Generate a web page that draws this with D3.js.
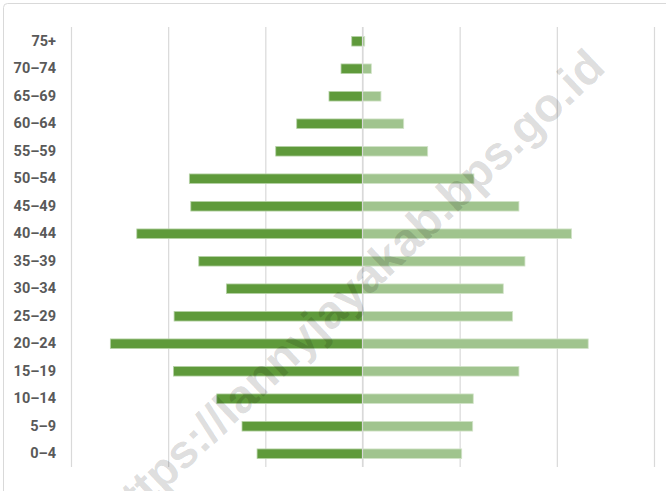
<!DOCTYPE html>
<html>
<head>
<meta charset="utf-8">
<script src="https://cdn.jsdelivr.net/npm/d3@7"></script>
<style>
  html, body { margin: 0; padding: 0; background: #fff; }
  svg { display: block; }
</style>
</head>
<body>
<svg id="chart" width="666" height="491"></svg>
<script>
// Age groups, top to bottom
const ageGroups = ["75+", "70–74", "65–69", "60–64", "55–59", "50–54", "45–49", "40–44",
                   "35–39", "30–34", "25–29", "20–24", "15–19", "10–14", "5–9", "0–4"];
// Left side (dark green)
const leftValues = [111, 221, 345, 677, 893, 1782, 1767, 2323,
                    1685, 1401, 1939, 2595, 1946, 1500, 1240, 1085];
// Right side (light green)
const rightValues = [23, 91, 190, 424, 671, 1147, 1610, 2152,
                     1672, 1449, 1545, 2323, 1610, 1140, 1134, 1021];
// Gridline positions (no labels shown)
const gridTicks = [-3000, -2000, -1000, 0, 1000, 2000, 3000];
const watermarkText = "https://lannyjayakab.bps.go.id";

const svg = d3.select("#chart");

// outer chart border
svg.append("rect")
  .attr("x", 3.5).attr("y", 3.5)
  .attr("width", 720).attr("height", 600)
  .attr("rx", 4)
  .attr("fill", "#fff")
  .attr("stroke", "#d9d9d9").attr("stroke-width", 1);

const x = d3.scaleLinear().domain([-3000, 3000]).range([71, 654]);
const y = d3.scaleBand().domain(ageGroups).range([27.5, 467.5])
  .paddingInner(0.65).paddingOuter(0.325);

// gridlines
const grid = svg.append("g")
  .attr("transform", "translate(0,467)")
  .call(d3.axisBottom(x).tickValues(gridTicks).tickSize(-440).tickFormat(""));
grid.select(".domain").remove();
grid.selectAll(".tick line").attr("stroke", "#d9d9d9").attr("stroke-width", 1.2);

// bars
const rows = ageGroups.map((g, i) => ({ g, l: leftValues[i], r: rightValues[i] }));

svg.append("g").selectAll("rect")
  .data(rows).join("rect")
  .attr("x", d => x(-d.l))
  .attr("y", d => y(d.g))
  .attr("width", d => x(0) - x(-d.l))
  .attr("height", y.bandwidth())
  .attr("fill", "#5f9a3b")
  .attr("stroke", "#b7d3a8").attr("stroke-width", 0.8);

svg.append("g").selectAll("rect")
  .data(rows).join("rect")
  .attr("x", x(0))
  .attr("y", d => y(d.g))
  .attr("width", d => x(d.r) - x(0))
  .attr("height", y.bandwidth())
  .attr("fill", "#a0c48e")
  .attr("stroke", "#d3e4ca").attr("stroke-width", 0.8);

// center line over bars
svg.append("line")
  .attr("x1", x(0)).attr("x2", x(0))
  .attr("y1", 27).attr("y2", 467)
  .attr("stroke", "#d9d9d9").attr("stroke-width", 1.2);

// category labels
const yAxis = svg.append("g")
  .attr("transform", "translate(71,0)")
  .call(d3.axisLeft(y).tickSize(0).tickPadding(15));
yAxis.select(".domain").remove();
yAxis.selectAll("text")
  .attr("fill", "#595959")
  .style("font-family", "Roboto, 'Liberation Sans', sans-serif")
  .style("font-weight", "700")
  .style("font-size", "14.5px");

// watermark
svg.append("text")
  .attr("transform", "translate(363,302) rotate(-43.5)")
  .attr("text-anchor", "middle")
  .style("font-family", "'Liberation Sans', Arial, sans-serif")
  .style("font-weight", "700")
  .style("font-size", "47px")
  .attr("fill", "#000")
  .attr("fill-opacity", 0.14)
  .text(watermarkText);
</script>
</body>
</html>
